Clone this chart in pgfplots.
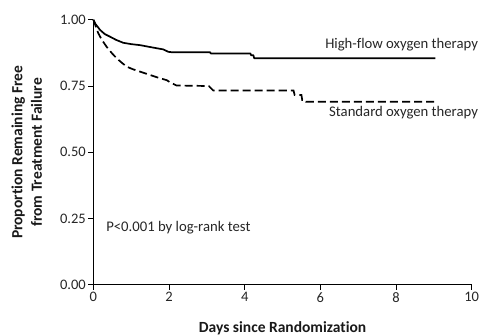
\documentclass[border=0pt]{standalone}
\usepackage{pgfplots}
\pgfplotsset{compat=1.18}
\usepackage{fontspec}
\setmainfont{Carlito}[Ligatures=NoCommon]
\begin{document}
\begin{tikzpicture}[x=1pt,y=1pt]
\begin{axis}[
  scale only axis, width=378pt, height=265pt,
  xmin=0, xmax=10, ymin=0, ymax=1,
  axis lines=left, axis line style={-, line width=0.9pt},
  clip=false,
  xtick={0,2,4,6,8,10}, ytick={0,0.25,0.5,0.75,1},
  yticklabel style={xshift=1pt, /pgf/number format/.cd, fixed, fixed zerofill, precision=2},
  /pgf/number format/assume math mode=true,
  tick align=outside, major tick length=5pt,
  tick style={line width=0.9pt, black},
  ticklabel style={font=\fontsize{14.5}{16}\selectfont, text=black!85},
  xticklabel style={yshift=1pt},
  xlabel={\bfseries Days since Randomization},
  ylabel={\bfseries\begin{tabular}{@{}c@{}}Proportion Remaining Free\\from Treatment Failure\end{tabular}},
  label style={font=\fontsize{15.5}{19.5}\selectfont, text=black!90},
  xlabel style={at={(axis description cs:0.5,-0.162)}, anchor=center},
  ylabel style={at={(axis description cs:-0.172,0.5)}, anchor=center},
]
\coordinate (ll) at (rel axis cs:0,0);
\coordinate (ur) at (rel axis cs:1,1);
% High-flow oxygen therapy
\addplot[black, line width=1.7pt, line join=round] coordinates {
(0,1.0) (0.05,0.985) (0.18,0.961) (0.3,0.946) (0.44,0.936) (0.6,0.924) (0.79,0.913)
(1.0,0.908) (1.24,0.904) (1.5,0.897) (1.85,0.888) (1.98,0.879) (2.1,0.877)
(3.09,0.877) (3.1,0.873) (4.15,0.873) (4.17,0.866) (4.23,0.866) (4.25,0.855) (9.04,0.855)
};
% Standard oxygen therapy
\addplot[black, line width=1.7pt, dash pattern=on 8pt off 4pt] coordinates {
(0,1.0) (0.05,0.98) (0.13,0.949) (0.22,0.925) (0.35,0.898) (0.5,0.872) (0.62,0.854)
(0.75,0.838) (0.88,0.823) (1.05,0.813) (1.24,0.804) (1.45,0.794) (1.68,0.783) (1.94,0.772)
(2.05,0.762) (2.2,0.752) (3.05,0.75) (3.12,0.74) (3.17,0.733) (5.29,0.733)
(5.32,0.716) (5.5,0.716) (5.52,0.697) (5.6,0.697) (5.62,0.691) (9.04,0.691)
};
\node[anchor=east, font=\fontsize{14.7}{16}\selectfont, text=black!85, inner sep=0pt] at (axis cs:10.17,0.905) {High-flow oxygen therapy};
\node[anchor=east, font=\fontsize{14.7}{16}\selectfont, text=black!85, inner sep=0pt] at (axis cs:10.17,0.648) {Standard oxygen therapy};
\node[anchor=west, font=\fontsize{14.7}{16}\selectfont, text=black!85, inner sep=0pt] at (axis cs:0.335,0.217) {P<0.001 by log-rank test};
\end{axis}
\pgfresetboundingbox
\path[use as bounding box] ([xshift=-93.3pt,yshift=-51pt]ll) rectangle ([xshift=9.3pt,yshift=19.7pt]ur);
\end{tikzpicture}
\end{document}
